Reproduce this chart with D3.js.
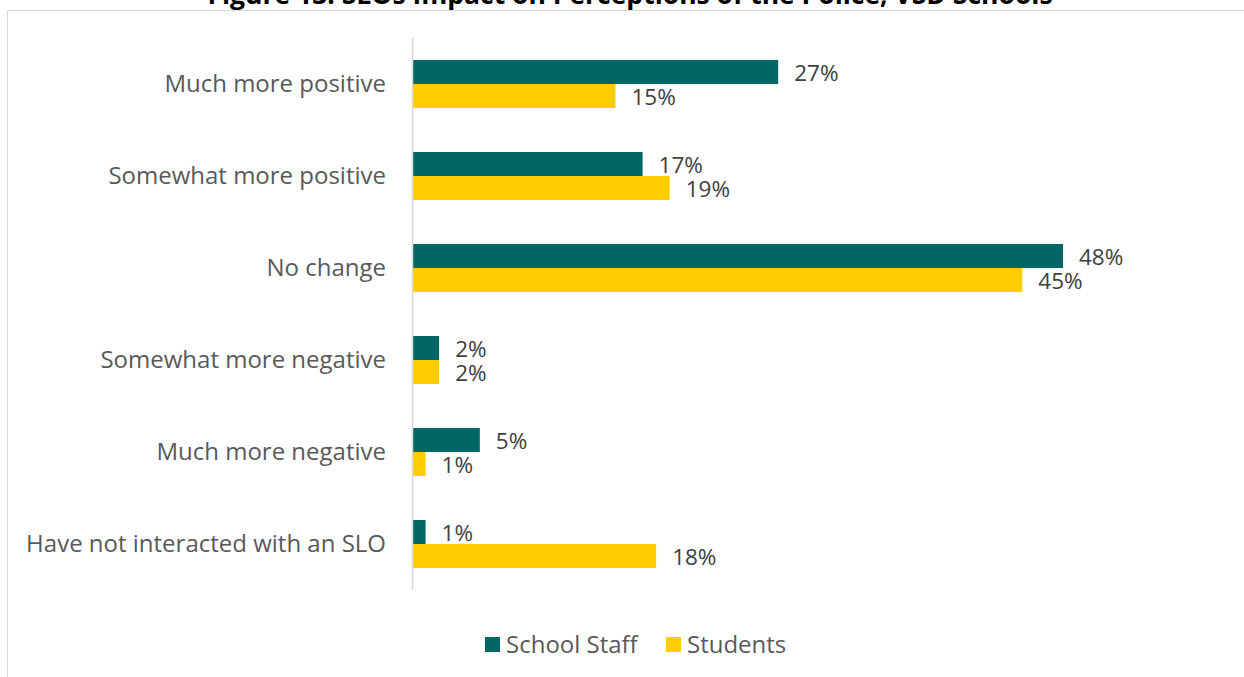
<!DOCTYPE html>
<html><head><meta charset="utf-8">
<script src="https://cdn.jsdelivr.net/npm/d3@7"></script>
<style>
html,body{margin:0;padding:0;background:#fff;}
svg{display:block;font-family:"Open Sans",sans-serif;}
</style></head>
<body>
<svg id="chart" width="1244" height="677"></svg>
<script>
const title = "Figure 13. SLOs Impact on Perceptions of the Police, VSD Schools";
const categories = ["Much more positive","Somewhat more positive","No change","Somewhat more negative","Much more negative","Have not interacted with an SLO"];
const seriesNames = ["School Staff","Students"];
const staffValues = [27,17,48,2,5,1];
const studentValues = [15,19,45,2,1,18];
const colors = ["#006766","#FFCC00"];

(function(){
const svg = d3.select("#chart");
// frame
svg.append("line").attr("x1",7.5).attr("x2",1244).attr("y1",10.5).attr("y2",10.5).attr("stroke","#d9d9d9").attr("stroke-width",1);
svg.append("line").attr("x1",7.5).attr("x2",7.5).attr("y1",10.5).attr("y2",677).attr("stroke","#d9d9d9").attr("stroke-width",1);
svg.append("text").attr("x",630).attr("y",4).attr("text-anchor","middle")
  .attr("font-size",26.5).attr("font-weight","bold").attr("fill","#000").text(title);

const x0 = 412, plotTop = 38, plotBottom = 590;
const x = d3.scaleLinear().domain([0,48]).range([x0,1063]);
const y = d3.scaleBand().domain(categories).range([plotTop,plotBottom]);
const barH = 24;

const data = categories.map((c,i)=>({c, vals:[staffValues[i],studentValues[i]]}));
const g = svg.append("g");
data.forEach(d=>{
  const cy = y(d.c)+y.bandwidth()/2;
  d.vals.forEach((v,k)=>{
    const yy = cy - barH + k*barH;
    g.append("rect").attr("x",x(0)).attr("y",yy).attr("width",x(v)-x(0)).attr("height",barH).attr("fill",colors[k]);
    g.append("text").attr("x",x(v)+16).attr("y",yy+barH/2+1).attr("dy","0.35em")
      .attr("font-size",22.5).attr("fill","#404040").text(v+"%");
  });
});

// category labels
const yAxis = d3.axisLeft(y).tickSize(0).tickPadding(26);
const ya = svg.append("g").attr("transform",`translate(${x0},0)`).call(yAxis);
ya.select(".domain").remove();
ya.selectAll("text").attr("font-size",24).attr("fill","#595959").attr("font-family","Open Sans, sans-serif");
svg.append("line").attr("x1",x0+0.5).attr("x2",x0+0.5).attr("y1",plotTop).attr("y2",plotBottom).attr("stroke","#d9d9d9").attr("stroke-width",1.5);

// legend
const lg = svg.append("g");
const legendPos = [485,666];
seriesNames.forEach((n,i)=>{
  lg.append("rect").attr("x",legendPos[i]).attr("y",637).attr("width",15).attr("height",15).attr("fill",colors[i]);
  lg.append("text").attr("x",legendPos[i]+21).attr("y",644.5).attr("dy","0.35em").attr("font-size",24).attr("fill","#595959").text(n);
});
})();
</script>
</body></html>
